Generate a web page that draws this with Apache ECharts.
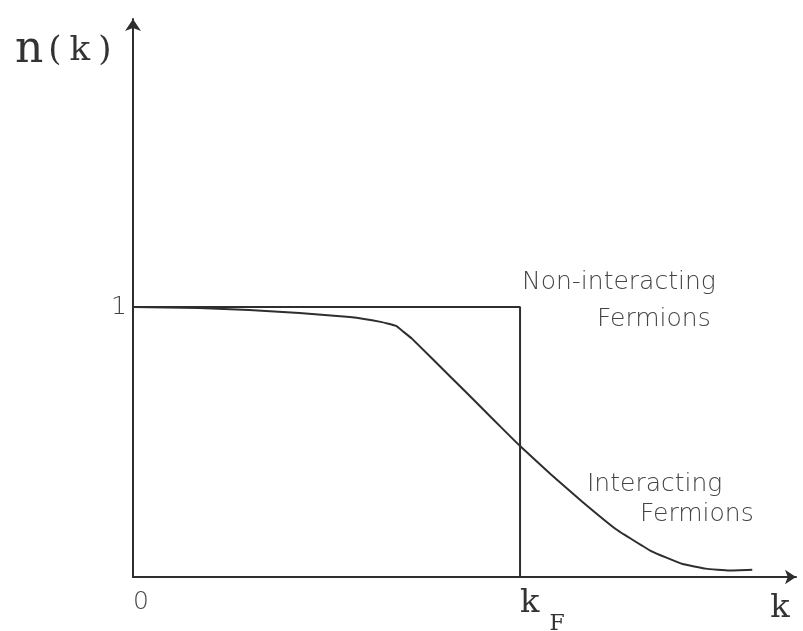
<!DOCTYPE html>
<html lang="en">
<head>
    <meta charset="UTF-8">
    <title>n(k)</title>
    <script type="text/javascript" src="https://cdn.jsdelivr.net/npm/echarts@6/dist/echarts.min.js"></script>
    <style>
        html, body { margin: 0; padding: 0; background: #fff; }
        #chart { width: 803px; height: 631px; }
    </style>
</head>
<body>
<div id="chart"></div>
<script>
    // interacting fermions: smooth fall around k_F
    var kCurve = [0, 0.17, 0.30, 0.43, 0.56, 0.64, 0.68, 0.70, 0.72, 0.82, 0.90, 0.95, 1.0, 1.08, 1.16, 1.25, 1.34, 1.42, 1.48, 1.54, 1.60];
    var nCurve = [1.0, 0.996, 0.989, 0.978, 0.963, 0.945, 0.93, 0.907, 0.884, 0.742, 0.628, 0.556, 0.485, 0.38, 0.28, 0.175, 0.095, 0.048, 0.031, 0.024, 0.027];
    // non-interacting: step at k_F
    var kStep = [0, 1, 1];
    var nStep = [1, 1, 0];
    // tick labels
    var xTicks = [0, 1];
    var xTickText = ['0', 'kF'];
    var yTicks = [1];
    var yTickText = ['1'];

    var lineColor = '#2e2e2e';
    var textColor = '#444';
    var sans = "'DejaVu Sans', sans-serif";
    var serif = "'DejaVu Serif', serif";

    function pairs(xs, ys) {
        var out = [];
        for (var i = 0; i < xs.length; i++) {
            out.push([xs[i], ys[i]]);
        }
        return out;
    }

    var mychart = echarts.init(document.getElementById('chart'));
    var option = {
        animation: false,
        backgroundColor: '#fff',
        grid: { left: 133, right: 7, top: 19, bottom: 54, outerBoundsMode: 'none', containLabel: false },
        xAxis: {
            type: 'value',
            min: 0,
            max: 1.713,
            name: 'k',
            nameLocation: 'end',
            nameGap: -16,
            nameTextStyle: {
                fontFamily: serif, fontSize: 32, color: '#333',
                align: 'center', verticalAlign: 'top', padding: [16, 0, 0, 0]
            },
            splitLine: { show: false },
            axisTick: { show: false },
            axisLine: {
                onZero: false,
                symbol: ['none', 'arrow'],
                symbolSize: [11, 11],
                lineStyle: { color: lineColor, width: 2 }
            },
            axisLabel: {
                customValues: xTicks,
                align: 'left',
                verticalAlign: 'top',
                margin: 11,
                formatter: function (v) {
                    var t = xTickText[xTicks.indexOf(v)];
                    if (t === 'kF') return '{k|k}{f|F}';
                    return '{s|' + t + '}';
                },
                rich: {
                    s: { fontFamily: sans, fontWeight: 200, fontSize: 25, color: textColor, lineHeight: 28 },
                    k: { fontFamily: serif, fontSize: 32, color: '#333', lineHeight: 34, verticalAlign: 'top' },
                    f: { fontFamily: serif, fontSize: 22, color: '#333', padding: [25, 0, 0, 10], verticalAlign: 'top' }
                }
            }
        },
        yAxis: {
            type: 'value',
            min: 0,
            max: 2.067,
            name: '{n|n}{p|(}{k|k}{p|)}',
            nameLocation: 'end',
            nameGap: -32,
            nameTextStyle: {
                align: 'left', verticalAlign: 'middle', padding: [0, 0, 0, -118],
                rich: {
                    n: { fontFamily: serif, fontSize: 44, color: '#333' },
                    p: { fontFamily: serif, fontSize: 34, color: '#333', padding: [0, 5, 0, 5] },
                    k: { fontFamily: serif, fontSize: 34, color: '#333', padding: [0, 3, 0, 3] }
                }
            },
            splitLine: { show: false },
            axisTick: { show: false },
            axisLine: {
                onZero: false,
                symbol: ['none', 'arrow'],
                symbolSize: [12, 12],
                lineStyle: { color: lineColor, width: 2 }
            },
            axisLabel: {
                customValues: yTicks,
                margin: 6,
                formatter: function (v) { return yTickText[yTicks.indexOf(v)]; },
                fontFamily: sans, fontWeight: 200, fontSize: 25, color: textColor
            }
        },
        graphic: [
            { type: 'text', left: 522, top: 270, style: { text: 'Non-interacting', font: "200 25px 'DejaVu Sans'", fill: textColor } },
            { type: 'text', left: 597, top: 307, style: { text: 'Fermions', font: "200 25px 'DejaVu Sans'", fill: textColor } },
            { type: 'text', left: 587, top: 472, style: { text: 'Interacting', font: "200 25px 'DejaVu Sans'", fill: textColor } },
            { type: 'text', left: 640, top: 502, style: { text: 'Fermions', font: "200 25px 'DejaVu Sans'", fill: textColor } }
        ],
        series: [
            {
                name: 'Non-interacting',
                type: 'line',
                data: pairs(kStep, nStep),
                symbol: 'none',
                lineStyle: { color: lineColor, width: 2 },
                z: 3
            },
            {
                name: 'Interacting',
                type: 'line',
                data: pairs(kCurve, nCurve),
                symbol: 'none',
                smooth: 0.1,
                lineStyle: { color: lineColor, width: 2 },
                z: 4
            }
        ]
    };
    mychart.setOption(option);
</script>
</body>
</html>
